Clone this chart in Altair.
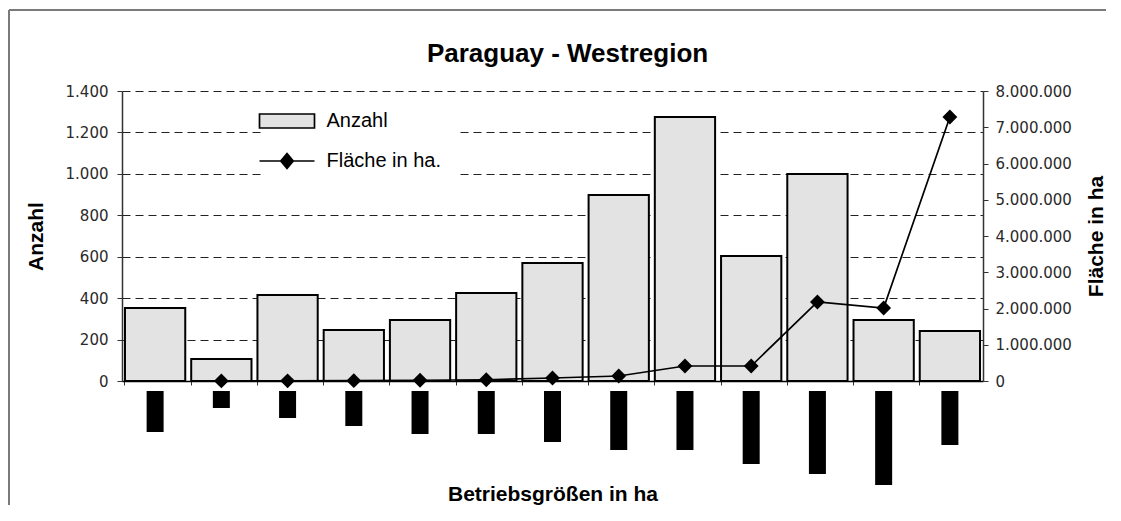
import altair as alt
import pandas as pd

# ---- data ----
categories = ["< 10", "10 - 20", "20 - 50", "50 - 100", "100 - 200", "200 - 500",
              "500 - 1.000", "1.000 - 2.500", "2.500 - 5.000", "5.000 - 10.000",
              "10.000 - 20.000", "20.000 - 50.000", "> 50.000"]
anzahl = [352, 106, 415, 246, 294, 425, 570, 898, 1274, 603, 999, 294, 241]
flaeche = [None, 1500, 5000, 10000, 20000, 35000, 83000, 138000, 414000, 414000,
           2180000, 2014000, 7283000]
# length of the (blacked-out) rotated category labels under the axis
label_len = [41, 17, 27, 35, 43, 43, 51, 59, 59, 73, 83, 94, 54]
series = ["Anzahl", "Fläche in ha."]
left_ticks = [0, 200, 400, 600, 800, 1000, 1200, 1400]
right_ticks = [0, 1000000, 2000000, 3000000, 4000000, 5000000, 6000000, 7000000, 8000000]

W, H = 861, 290
df = pd.DataFrame({"kat": categories, "anzahl": anzahl, "flaeche": flaeche, "lab": label_len})

de_fmt = "replace(format(datum.value, ','), regexp(',', 'g'), '.')"
LBL = dict(labelFont="DejaVu Sans", labelFontSize=15, labelColor="#2a2a2a",
           titleFont="Liberation Sans", titleFontSize=21, titleFontWeight="bold",
           titleColor="black", domainColor="#333333", domainWidth=1.5,
           tickColor="#333333", tickSize=5)

x = alt.X("kat:N", sort=categories,
          scale=alt.Scale(domain=categories, paddingInner=0.09, paddingOuter=0.045),
          axis=alt.Axis(title="Betriebsgrößen in ha", labels=False, bandPosition=0,
                        tickSize=4, tickColor="#333333", domainColor="black", domainWidth=1.5,
                        titleFont="Liberation Sans", titleFontSize=21, titleFontWeight="bold",
                        titleColor="black", titlePadding=98, grid=False))

bars = alt.Chart(df).mark_bar(fill="#e3e3e3", stroke="black", strokeWidth=2).encode(
    x=x,
    y=alt.Y("anzahl:Q", scale=alt.Scale(domain=[0, 1400], nice=False),
            axis=alt.Axis(values=left_ticks, title="Anzahl", grid=True, gridDash=[8, 5],
                          gridColor="#222222", gridWidth=1, labelPadding=9, titlePadding=19,
                          labelExpr=de_fmt, **LBL)),
)

line = alt.Chart(df).transform_filter("isValid(datum.flaeche)").mark_line(
    color="black", strokeWidth=1.7,
    point=alt.OverlayMarkDef(shape="diamond", filled=True, fill="black", size=220),
).encode(
    x=x,
    y=alt.Y("flaeche:Q", scale=alt.Scale(domain=[0, 8000000], nice=False),
            axis=alt.Axis(orient="right", values=right_ticks, title="Fläche in ha", grid=False,
                          labelPadding=7, titlePadding=14, titleAngle=270, titleBaseline="top",
                          labelExpr=de_fmt, **LBL)),
)

labels = alt.Chart(df).transform_calculate(tiefe="-(10 + datum.lab)").mark_bar(
    size=17, color="black", clip=False
).encode(
    x=x,
    y=alt.Y("tiefe:Q", scale=alt.Scale(domain=[0, H], nice=False, zero=False), axis=None),
    y2=alt.datum(-10),
)

rect_path = "M-5.5,-1.4H5.5V1.4H-5.5Z"
line_path = "M-5.5,0H5.5M0,-1.5L1.25,0L0,1.5L-1.25,0Z"
L = alt.Legend(title=None, orient="none", legendX=140, legendY=5, padding=15,
               fillColor="white", labelFont="Liberation Sans", labelFontSize=20,
               labelColor="black", labelOffset=29.5, rowPadding=18, symbolSize=100,
               symbolStrokeWidth=1.7, symbolOpacity=1, labelLimit=300)

leg = alt.Chart(pd.DataFrame({"serie": series})).transform_filter("false").mark_point(
    filled=True, strokeWidth=1.7, size=100
).encode(
    fill=alt.Fill("serie:N", scale=alt.Scale(domain=series, range=["#e3e3e3", "black"]), legend=L),
    stroke=alt.Stroke("serie:N", scale=alt.Scale(domain=series, range=["black", "black"]), legend=L),
    shape=alt.Shape("serie:N", scale=alt.Scale(domain=series, range=[rect_path, line_path]), legend=L),
)

one = pd.DataFrame({"a": [0]})
frame_left = alt.Chart(one).mark_rule(color="#7a7a7a", strokeWidth=2).encode(
    x=alt.value(-113), y=alt.value(-81), y2=alt.value(414))
frame_top = alt.Chart(one).mark_rule(color="#7a7a7a", strokeWidth=2).encode(
    x=alt.value(-113), x2=alt.value(984), y=alt.value(-81))

chart = alt.layer(frame_left, frame_top, bars, line, labels, leg).resolve_scale(
    y="independent"
).properties(
    width=W, height=H,
    padding={"left": 0, "top": 1, "right": 0, "bottom": 0},
    title=alt.Title("Paraguay - Westregion", font="Liberation Sans", fontSize=26,
                    fontWeight="bold", color="black", anchor="middle", dx=15, offset=-57.5),
).configure_view(stroke=None)

chart.save("out.html", embed_options={"renderer": "svg", "actions": False})
